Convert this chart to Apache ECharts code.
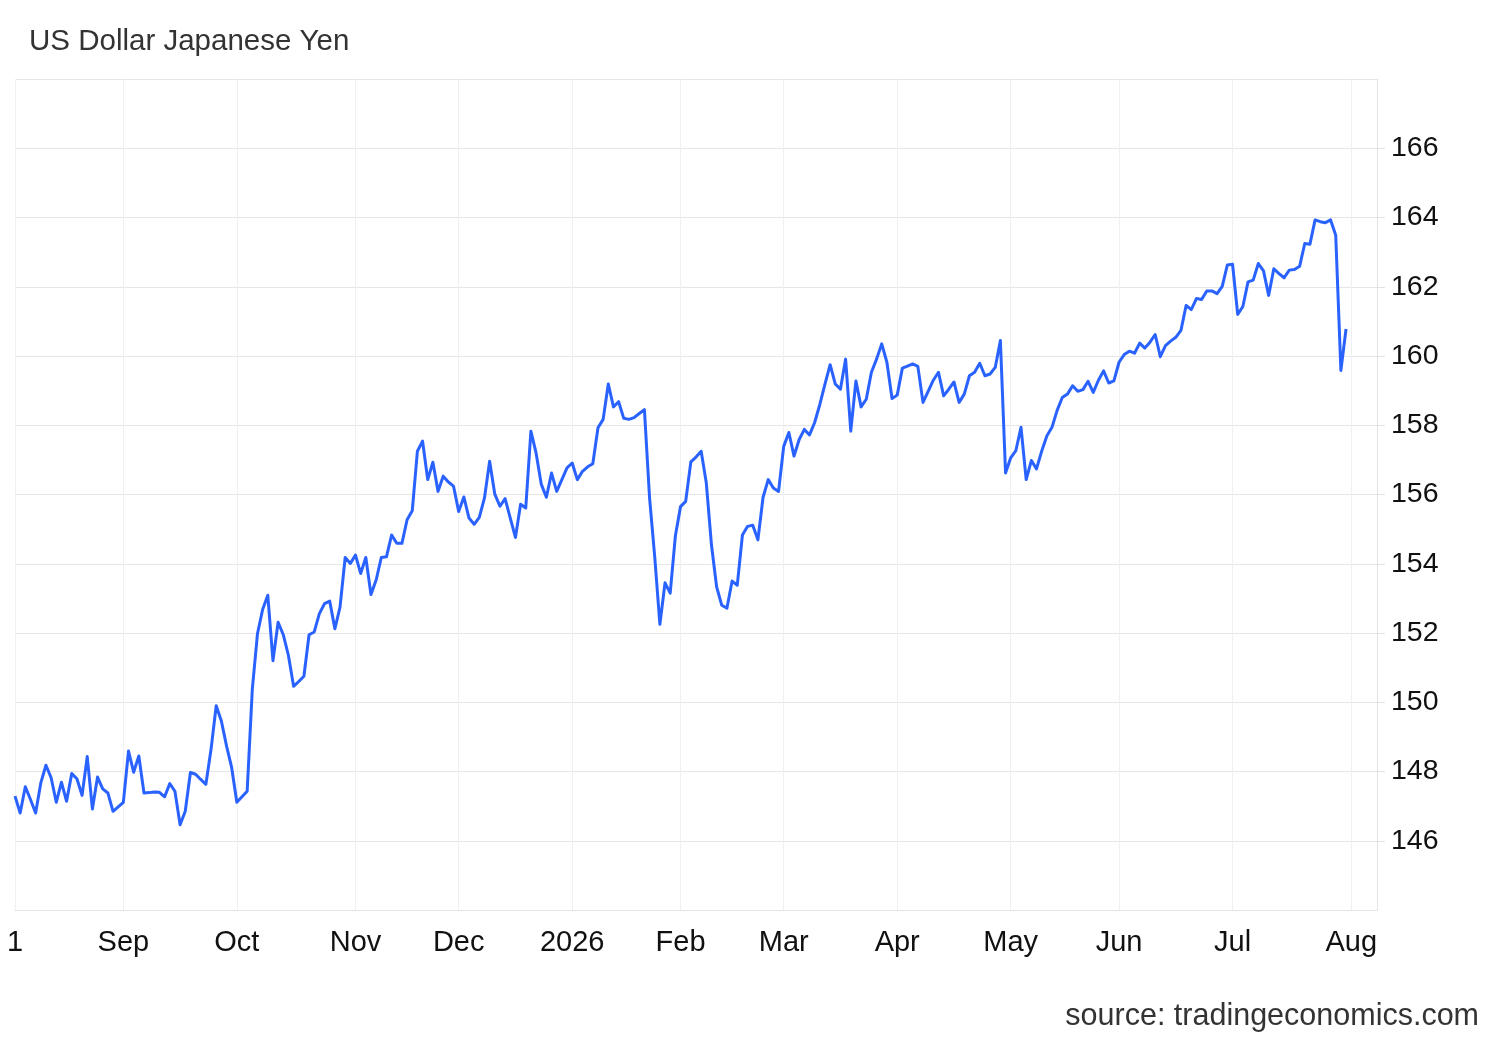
<!DOCTYPE html>
<html><head><meta charset="utf-8">
<script src="https://cdn.jsdelivr.net/npm/echarts@6/dist/echarts.min.js"></script>
<style>html,body{margin:0;padding:0;background:#fff}#chart{width:1500px;height:1040px}</style>
</head><body><div id="chart"></div>
<script>
const titleText = 'US Dollar Japanese Yen';
const sourceText = 'source: tradingeconomics.com';
// Trading-day categories (weekdays, market holidays excluded)
const firstDay = '2025-08-01';
const lastDay = '2026-08-10';
const holidays = ['2025-12-25', '2026-01-01'];
// Month tick labels keyed by year-month
const monthLabels = {
  '2025-08': '1', '2025-09': 'Sep', '2025-10': 'Oct', '2025-11': 'Nov', '2025-12': 'Dec',
  '2026-01': '2026', '2026-02': 'Feb', '2026-03': 'Mar', '2026-04': 'Apr', '2026-05': 'May',
  '2026-06': 'Jun', '2026-07': 'Jul', '2026-08': 'Aug'
};
const yMin = 144, yMax = 168, yStep = 2;

// USDJPY closes, one array per month
const aug2025 = [147.29, 146.80, 147.56, 147.19, 146.80, 147.67, 148.18, 147.82, 147.11, 147.69, 147.14, 147.94, 147.79, 147.31, 148.43, 146.92, 147.84, 147.50, 147.38, 146.85, 146.98];
const sep2025 = [147.11, 148.59, 147.98, 148.45, 147.38, 147.39, 147.41, 147.40, 147.27, 147.65, 147.43, 146.46, 146.85, 147.97, 147.92, 147.77, 147.63, 148.64, 149.90, 149.46, 148.74, 148.11];
const oct2025 = [147.11, 147.27, 147.43, 150.38, 151.98, 152.68, 153.09, 151.20, 152.31, 151.95, 151.35, 150.46, 150.60, 150.75, 151.95, 152.03, 152.56, 152.85, 152.92, 152.12, 152.75, 154.18, 154.01];
const nov2025 = [154.25, 153.72, 154.18, 153.11, 153.53, 154.18, 154.20, 154.83, 154.59, 154.59, 155.27, 155.53, 157.25, 157.54, 156.43, 156.93, 156.09, 156.53, 156.36, 156.24];
const dec2025 = [155.51, 155.93, 155.32, 155.14, 155.34, 155.90, 156.96, 156.01, 155.66, 155.88, 155.32, 154.76, 155.72, 155.61, 157.83, 157.20, 156.30, 155.92, 156.62, 156.09, 156.43, 156.77];
const jan2026 = [156.91, 156.43, 156.67, 156.80, 156.89, 157.93, 158.17, 159.19, 158.53, 158.68, 158.20, 158.17, 158.22, 158.34, 158.45, 155.90, 154.20, 152.25, 153.45, 153.15, 154.80];
const feb2026 = [155.65, 155.80, 156.94, 157.08, 157.25, 156.33, 154.54, 153.33, 152.80, 152.72, 153.50, 153.38, 154.83, 155.08, 155.11, 154.69, 155.92, 156.43, 156.19, 156.09];
const mar2026 = [157.39, 157.79, 157.11, 157.59, 157.88, 157.72, 158.08, 158.60, 159.19, 159.75, 159.19, 159.04, 159.91, 157.83, 159.28, 158.53, 158.75, 159.53, 159.91, 160.35, 159.82, 158.77];
const apr2026 = [158.87, 159.65, 159.71, 159.77, 159.70, 158.66, 158.98, 159.30, 159.53, 158.85, 159.04, 159.25, 158.66, 158.90, 159.43, 159.53, 159.79, 159.43, 159.48, 159.67, 160.45, 156.62];
const may2026 = [157.06, 157.27, 157.94, 156.43, 156.98, 156.74, 157.25, 157.69, 157.94, 158.43, 158.80, 158.90, 159.14, 158.98, 159.03, 159.27, 158.95, 159.30, 159.57, 159.22, 159.28];
const jun2026 = [159.82, 160.04, 160.14, 160.08, 160.37, 160.23, 160.40, 160.62, 159.98, 160.30, 160.43, 160.54, 160.74, 161.46, 161.34, 161.66, 161.63, 161.88, 161.88, 161.80, 162.01, 162.63];
const jul2026 = [162.65, 161.20, 161.43, 162.14, 162.19, 162.67, 162.46, 161.75, 162.52, 162.38, 162.26, 162.48, 162.50, 162.59, 163.25, 163.23, 163.93, 163.88, 163.85, 163.93, 163.49, 159.58, 160.78];

const values = [].concat(aug2025, sep2025, oct2025, nov2025, dec2025, jan2026, feb2026, mar2026, apr2026, may2026, jun2026, jul2026);

const categories = [];
(function () {
  const d = new Date(firstDay + 'T00:00:00Z');
  const end = new Date(lastDay + 'T00:00:00Z');
  while (d <= end) {
    const wd = d.getUTCDay();
    const s = d.toISOString().slice(0, 10);
    if (wd !== 0 && wd !== 6 && holidays.indexOf(s) < 0) categories.push(s);
    d.setUTCDate(d.getUTCDate() + 1);
  }
})();

function isMonthStart(index) {
  if (index === 0) return true;
  return categories[index].slice(0, 7) !== categories[index - 1].slice(0, 7);
}

const font = "'Liberation Sans', Arial, Helvetica, sans-serif";
const chart = echarts.init(document.getElementById('chart'), null, { renderer: 'canvas' });
chart.setOption({
  animation: false,
  backgroundColor: '#ffffff',
  title: [
    { text: titleText, left: 24, top: 22, textStyle: { fontFamily: font, fontSize: 29.5, fontWeight: 'normal', color: '#333333' } },
    { text: sourceText, right: 16, top: 996, textStyle: { fontFamily: font, fontSize: 30.5, fontWeight: 'normal', color: '#333333' } }
  ],
  grid: { left: 15, right: 123, top: 79, bottom: 130, containLabel: false },
  xAxis: {
    type: 'category',
    data: categories,
    boundaryGap: false,
    axisLine: { show: true, lineStyle: { color: '#e3e3e3', width: 1 } },
    axisTick: { show: false },
    axisLabel: {
      interval: (i) => isMonthStart(i),
      formatter: (v) => monthLabels[v.slice(0, 7)] || '',
      fontFamily: font, fontSize: 29, color: '#111111', margin: 18
    },
    splitLine: { show: true, interval: (i) => isMonthStart(i), lineStyle: { color: '#edf0f4', width: 1 } }
  },
  yAxis: {
    type: 'value',
    position: 'right',
    min: yMin, max: yMax, interval: yStep,
    axisLine: { show: true, lineStyle: { color: '#e3e3e3', width: 1 } },
    axisTick: { show: true, length: 8, lineStyle: { color: '#e3e3e3' } },
    axisLabel: { showMinLabel: false, showMaxLabel: false, fontFamily: font, fontSize: 28.5, color: '#111111', margin: 14, padding: [4, 0, 0, 0] },
    splitLine: { show: true, lineStyle: { color: '#e6e6e6', width: 1 } }
  },
  series: [{
    type: 'line',
    data: values,
    showSymbol: false,
    symbol: 'none',
    lineStyle: { color: '#2962ff', width: 3, join: 'round' },
    itemStyle: { color: '#2962ff' }
  }]
});
</script></body></html>
